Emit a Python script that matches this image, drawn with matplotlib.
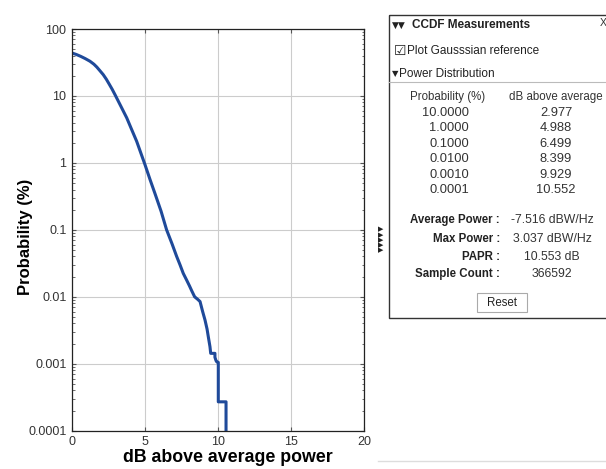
import matplotlib
matplotlib.use("Agg")
import matplotlib.pyplot as plt
from matplotlib.patches import Rectangle

plt.rcParams['font.family'] = ['Liberation Sans', 'DejaVu Sans']

# CCDF curve (dB above average, probability %)
db_above = [0.0, 0.3, 0.6, 0.9, 1.23, 1.5, 1.7, 1.9, 2.14, 2.35, 2.55, 2.75, 2.95,
            3.35, 3.75, 4.1, 4.43, 4.77, 5.0, 5.35, 5.68, 6.1, 6.48, 6.85, 7.17,
            7.4, 7.62, 7.85, 8.05, 8.2, 8.4, 8.6, 8.77, 8.95, 9.11, 9.25, 9.34, 9.45,
            9.5, 9.79, 9.79, 9.86, 9.91, 10.02, 10.02, 10.55, 10.55]
prob_pct = [43.8, 41.6, 39.0, 36.2, 33.0, 29.8, 27.0, 24.0, 20.8, 17.8, 15.0, 12.6,
            10.4, 7.0, 4.7, 3.1, 2.1, 1.3, 0.94, 0.56, 0.35, 0.19, 0.1, 0.062, 0.04,
            0.03, 0.0224, 0.0178, 0.0145, 0.0123, 0.01, 0.0092, 0.0085, 0.006, 0.0045,
            0.0033, 0.0025, 0.0018, 0.00143, 0.00143, 0.00125, 0.00112, 0.00107,
            0.00105, 0.00027, 0.00027, 0.00005]

# measurement panel contents
table_prob = ["10.0000", "1.0000", "0.1000", "0.0100", "0.0010", "0.0001"]
table_db = ["2.977", "4.988", "6.499", "8.399", "9.929", "10.552"]
stat_names = ["Average Power :", "Max Power :", "PAPR :", "Sample Count :"]
stat_values = ["-7.516 dBW/Hz", "3.037 dBW/Hz", "10.553 dB", "366592"]

y_ticks = [0.0001, 0.001, 0.01, 0.1, 1, 10, 100]
y_tick_labels = ["0.0001", "0.001", "0.01", "0.1", "1", "10", "100"]
x_ticks = [0, 5, 10, 15, 20]

W, H = 606, 469
fig = plt.figure(figsize=(W / 100, H / 100), dpi=100)

ax = fig.add_axes([72 / W, 1 - 430.7 / H, 292 / W, 401.7 / H])
ax.plot(db_above, prob_pct, color='#1f4a9a', lw=2.2, solid_joinstyle='round')
ax.set_yscale('log')
ax.set_xlim(0, 20)
ax.set_ylim(0.0001, 100)
ax.set_xticks(x_ticks)
ax.set_xticklabels([str(t) for t in x_ticks])
ax.set_yticks(y_ticks)
ax.set_yticklabels(y_tick_labels)
ax.grid(True, which='major', color='#cccccc', lw=0.8)
ax.tick_params(which='both', direction='in', top=True, right=True,
               labelsize=9, labelcolor='#333333', color='#555555')
ax.tick_params(which='major', length=3, pad=4)
ax.tick_params(which='minor', length=1.8)
for s in ax.spines.values():
    s.set_color('#222222')
    s.set_linewidth(0.9)
ax.set_xlabel("dB above average power", fontsize=12.8, fontweight='bold')
ax.set_ylabel("Probability (%)", fontsize=12, fontweight='bold')
ax.xaxis.set_label_coords(0.534, -0.045)
ax.yaxis.set_label_coords(-0.135, 0.482)

# overlay in pixel coordinates for the measurement panel
ov = fig.add_axes([0, 0, 1, 1], zorder=5)
ov.set_xlim(0, W)
ov.set_ylim(H, 0)
ov.axis('off')
ov.patch.set_alpha(0)

ov.add_patch(Rectangle((389, 15), 230, 303, fill=False, ec='#333333', lw=1.0))
ov.plot([389, 606], [82, 82], color='#bbbbbb', lw=0.8)
ov.plot([378, 606], [461, 461], color='#dddddd', lw=1.0)

ov.text(392, 25, "\u25bc\u25bc", fontsize=6.5, va='center', ha='left', color='#222222',
        family=['DejaVu Sans'])
ov.text(412, 25, "CCDF Measurements", fontsize=8.5, fontweight='bold', va='center',
        ha='left', color='#222222')
ov.text(603, 23, "X", fontsize=7.5, va='center', ha='center', color='#333333')
ov.text(394, 51, "\u2611", fontsize=10, va='center', ha='left', color='#222222',
        family=['DejaVu Sans'])
ov.text(407, 51, "Plot Gausssian reference", fontsize=8.5, va='center', ha='left',
        color='#222222')
ov.text(392, 74, "\u25bc", fontsize=6, va='center', ha='left', color='#222222',
        family=['DejaVu Sans'])
ov.text(399, 74, "Power Distribution", fontsize=8.5, va='center', ha='left',
        color='#222222')

ov.text(448, 97, "Probability (%)", fontsize=8.3, va='center', ha='center', color='#333333')
ov.text(556, 97, "dB above average", fontsize=8.3, va='center', ha='center', color='#333333')
row_y0, row_dy = 112.7, 15.45
for i, (p, d) in enumerate(zip(table_prob, table_db)):
    y = row_y0 + i * row_dy
    ov.text(469, y, p, fontsize=9.3, va='center', ha='right', color='#333333')
    ov.text(556, y, d, fontsize=9.3, va='center', ha='center', color='#333333')

stat_y = [220, 239, 257, 274]
for name, val, y in zip(stat_names, stat_values, stat_y):
    ov.text(500, y, name, fontsize=8.3, fontweight='bold', va='center', ha='right',
            color='#222222')
    ov.text(552, y, val, fontsize=8.8, va='center', ha='center', color='#333333')

ov.add_patch(Rectangle((477, 293), 50, 19, fill=False, ec='#aaaaaa', lw=0.8))
ov.text(502, 302.5, "Reset", fontsize=8.3, va='center', ha='center', color='#222222')

ov.text(381, 240, "\u25b6\n\u25b6\n\u25b6\n\u25b6\n\u25b6", fontsize=5, linespacing=0.84,
        va='center', ha='center', color='#222222', family=['DejaVu Sans'])

fig.savefig("out.png", dpi=100)
